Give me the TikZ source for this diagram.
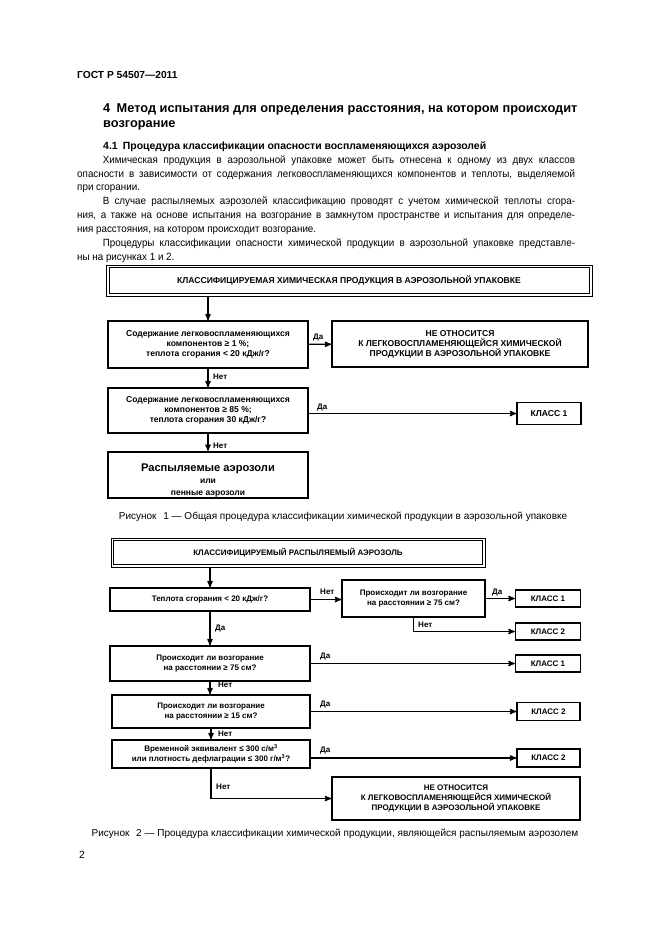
\documentclass[tikz,border=0pt]{standalone}
\usepackage{fontspec}
\setmainfont{Liberation Sans}
\newfontfamily\bodyfont[FakeStretch=0.94]{Liberation Sans}
\usepackage{tikz}
\usetikzlibrary{arrows, positioning}
\tikzset{
>=stealth', % small bold arrow heads
box/.style={draw, line width=1.3pt, inner sep=1pt, align=center, font=\bfseries\fontsize{7.7}{9}\selectfont}, % plain step of the scheme
boxb/.style={box, font=\bfseries\fontsize{7.2}{9}\selectfont}, % the same, second figure
boxsize/.style 2 args={minimum width=#1*0.9pt, minimum height=#2*0.9pt}, % size in pixels of the page
frame/.style={draw, line width=0.7pt, inner sep=0pt}, % outer line of the title boxes
lbl/.style={anchor=base west, inner sep=0pt, font=\bfseries\fontsize{7.2}{8}\selectfont}, % Да / Нет
conn/.style={->, line width=1.1pt}, % connectors
txt/.style={anchor=base west, inner sep=0pt}, % page text
}

\begin{document}
\begin{tikzpicture}[x=0.9pt, y=-0.9pt]
    \fill[white] (0,0) rectangle (661,936);
    \useasboundingbox (0,0) rectangle (661,936);

    % page text
    \node[txt, font=\bfseries\fontsize{9.2}{11}\selectfont] (gost) at (77,78) {ГОСТ Р 54507—2011};
    \node[txt, font=\bfseries\fontsize{11.5}{13.5}\selectfont] (sec) at (103,112)
      {4\hspace{0.5em}Метод испытания для определения расстояния, на котором происходит};
    \node[txt, font=\bfseries\fontsize{11.5}{13.5}\selectfont] (secb) at (103,127) {возгорание};
    \node[txt, font=\bfseries\fontsize{9.4}{11}\selectfont] (sub) at (103,149)
      {4.1\hspace{0.5em}Процедура классификации опасности воспламеняющихся аэрозолей};
    \node[anchor=north west, inner sep=0pt, text width=448pt, align=justify,
          font=\bodyfont\fontsize{9.4}{12.45}\selectfont] (body) at (77,155.3) {%
      \noindent\hspace*{23pt}Химическая продукция в аэрозольной упаковке может быть отнесена к одному из двух классов\linebreak
      опасности в зависимости от содержания легковоспламеняющихся компонентов и теплоты, выделяемой\linebreak
      при сгорании.\par
      \noindent\hspace*{23pt}В случае распыляемых аэрозолей классификацию проводят с учетом химической теплоты сгора-\linebreak
      ния, а также на основе испытания на возгорание в замкнутом пространстве и испытания для определе-\linebreak
      ния расстояния, на котором происходит возгорание.\par
      \noindent\hspace*{23pt}Процедуры классификации опасности химической продукции в аэрозольной упаковке представле-\linebreak
      ны на рисунках 1 и 2.};

    % figure 1
    \node[frame, boxsize={486}{31}] (t1) at (349,280.5) {};
    \draw[line width=1.5pt] ([xshift=3.6pt,yshift=-2.7pt]t1.north west) rectangle ([xshift=-2.7pt,yshift=2.7pt]t1.south east);
    \node[font=\bfseries\fontsize{7.7}{9}\selectfont] (t1text) at (t1) {КЛАССИФИЦИРУЕМАЯ ХИМИЧЕСКАЯ ПРОДУКЦИЯ В АЭРОЗОЛЬНОЙ УПАКОВКЕ};
    \node[box, boxsize={200}{47}] (b1) at (208,344.5)
      {Содержание легковоспламеняющихся\\ компонентов ≥ 1 \%;\\ теплота сгорания < 20 кДж/г?};
    \node[box, boxsize={256}{46}] (ne1) at (460,344)
      {НЕ ОТНОСИТСЯ\\ К ЛЕГКОВОСПЛАМЕНЯЮЩЕЙСЯ ХИМИЧЕСКОЙ\\ ПРОДУКЦИИ В АЭРОЗОЛЬНОЙ УПАКОВКЕ};
    \node[box, boxsize={200}{45}] (b2) at (208,410.5)
      {Содержание легковоспламеняющихся\\ компонентов ≥ 85 \%;\\ теплота сгорания 30 кДж/г?};
    \node[box, boxsize={64}{22}] (k1a) at (549,413.5) {КЛАСС 1};
    \node[box, line width=2pt, boxsize={200}{46}] (b3) at (208,475) {};
    \node[align=center, font=\bfseries\fontsize{7.7}{10.8}\selectfont] (b3text) at ([yshift=-5pt]b3)
      {{\fontsize{10}{10.8}\selectfont Распыляемые аэрозоли}\\ или\\ пенные аэрозоли};

    \draw[conn] (t1.south -| b1) -- (b1);
    \draw[conn] (b1) -- (ne1);
    \draw[conn] (b1) -- (b2);
    \draw[conn] (b2.east |- k1a) -- (k1a);
    \draw[conn] (b2) -- (b3);
    \node[lbl] (l1) at (313,339) {Да};
    \node[lbl] (l2) at (213,379) {Нет};
    \node[lbl] (l3) at (317,409) {Да};
    \node[lbl] (l4) at (213,448) {Нет};

    \node[font=\fontsize{9}{11}\selectfont, anchor=base] (cap1) at (343,519)
      {Рисунок\hspace{0.4em} 1 — Общая процедура классификации химической продукции в аэрозольной упаковке};

    % figure 2
    \node[frame, boxsize={374}{29}] (t2) at (298,552.5) {};
    \draw[line width=1.5pt] ([xshift=2.7pt,yshift=-2.7pt]t2.north west) rectangle ([xshift=-2.7pt,yshift=2.7pt]t2.south east);
    \node[font=\bfseries\fontsize{7.2}{9}\selectfont] (t2text) at (t2) {КЛАССИФИЦИРУЕМЫЙ РАСПЫЛЯЕМЫЙ АЭРОЗОЛЬ};
    \node[boxb, boxsize={200}{23}] (c1) at (210,599.5) {Теплота сгорания < 20 кДж/г?};
    \node[boxb, boxsize={143}{37}] (p1) at (413.5,598.5) {Происходит ли возгорание\\ на расстоянии ≥ 75 см?};
    \node[boxb, boxsize={65}{17}] (k1b) at (548,598.5) {КЛАСС 1};
    \node[boxb, boxsize={65}{17}] (k2b) at (548,631.5) {КЛАСС 2};
    \node[boxb, boxsize={200}{35}] (p2) at (210,663.5) {Происходит ли возгорание\\ на расстоянии ≥ 75 см?};
    \node[boxb, boxsize={65}{17}] (k1c) at (548,663.5) {КЛАСС 1};
    \node[boxb, boxsize={198}{33}] (p3) at (211,711.5) {Происходит ли возгорание\\ на расстоянии ≥ 15 см?};
    \node[boxb, boxsize={63}{18}] (k2c) at (548.5,711.5) {КЛАСС 2};
    \node[boxb, boxsize={198}{28}] (p4) at (211,754)
      {Временной эквивалент ≤ 300 с/м\textsuperscript{3}\\ или плотность дефлаграции ≤ 300 г/м\textsuperscript{3}?};
    \node[boxb, boxsize={63}{18}] (k2d) at (548.5,758) {КЛАСС 2};
    \node[boxb, boxsize={248}{43}] (ne2) at (456,798.5)
      {НЕ ОТНОСИТСЯ\\ К ЛЕГКОВОСПЛАМЕНЯЮЩЕЙСЯ ХИМИЧЕСКОЙ\\ ПРОДУКЦИИ В АЭРОЗОЛЬНОЙ УПАКОВКЕ};

    \draw[conn] (t2.south -| c1) -- (c1);
    \draw[conn] (c1.east) -- (p1.west |- c1.east);
    \draw[conn] (p1) -- (k1b);
    \draw[conn] (p1.south) |- (k2b.west);
    \draw[conn] (c1) -- (p2);
    \draw[conn] (p2) -- (k1c);
    \draw[conn] (p2.south) -- (p2.south |- p3.north);
    \draw[conn] (p3) -- (k2c);
    \draw[conn] (p3.south) -- (p4.north);
    \draw[conn] (p4.east |- k2d) -- (k2d);
    \draw[conn] (p4.south) |- (ne2.west);
    \node[lbl] (m1) at (320,594) {Нет};
    \node[lbl] (m2) at (492,594) {Да};
    \node[lbl] (m3) at (418,627) {Нет};
    \node[lbl] (m4) at (215,630) {Да};
    \node[lbl] (m5) at (320,658) {Да};
    \node[lbl] (m6) at (218,687) {Нет};
    \node[lbl] (m7) at (320,706) {Да};
    \node[lbl] (m8) at (218,736) {Нет};
    \node[lbl] (m9) at (320,752) {Да};
    \node[lbl] (m10) at (216,789) {Нет};

    \node[font=\fontsize{9}{11}\selectfont, anchor=base] (cap2) at (335,836)
      {Рисунок\hspace{0.4em} 2 — Процедура классификации химической продукции, являющейся распыляемым аэрозолем};

    \node[txt, font=\fontsize{9.4}{11}\selectfont] (page) at (79,858) {2};
\end{tikzpicture}
\end{document}
